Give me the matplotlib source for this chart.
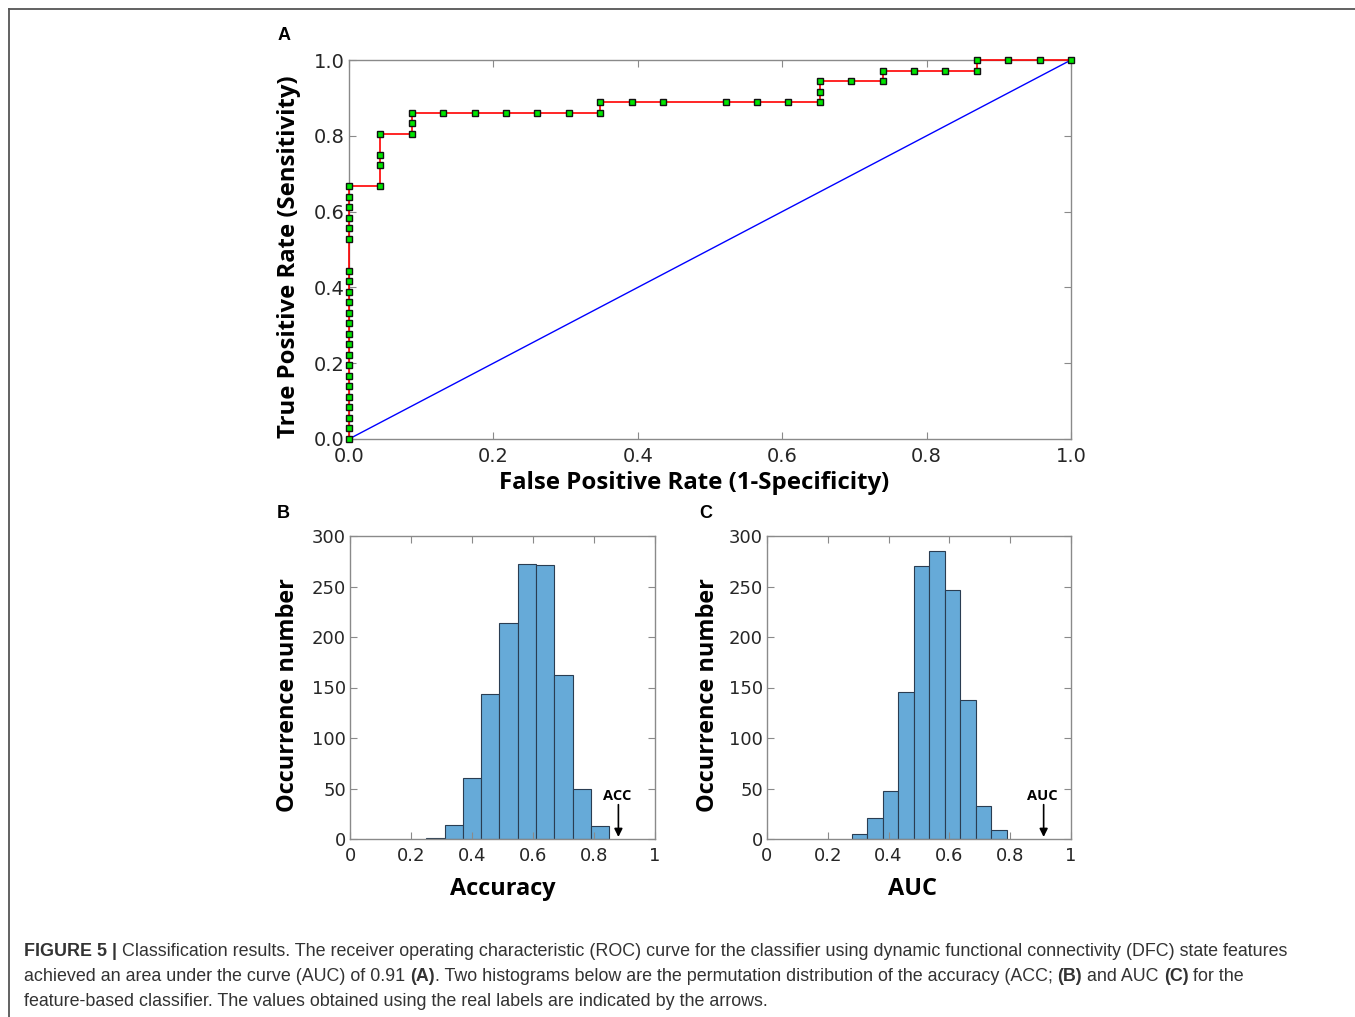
import matplotlib
matplotlib.use('Agg')
import matplotlib.pyplot as plt
from matplotlib.lines import Line2D

# ROC points, counted in steps of one negative (23) and one positive (36)
n_neg = 23
n_pos = 36
roc_fp = [0] * 23 + [1, 1, 1, 1, 2, 2, 2, 3, 4, 5, 6, 7, 8, 8, 9, 10, 12, 13, 14, 15, 15, 15,
                     16, 17, 17, 18, 19, 20, 20, 21, 22, 23]
roc_tp = list(range(0, 17)) + list(range(19, 25)) + [24, 26, 27, 29, 29, 30, 31, 31, 31, 31, 31,
                                                     31, 31, 32, 32, 32, 32, 32, 32, 32, 33, 34,
                                                     34, 34, 35, 35, 35, 35, 36, 36, 36, 36]

# permutation histograms
acc_edges = [0.25, 0.31, 0.37, 0.43, 0.49, 0.55, 0.61, 0.67, 0.73, 0.79, 0.85]
acc_counts = [1, 14, 60, 144, 214, 272, 271, 162, 50, 13]
acc_real = 0.88

auc_edges = [0.279, 0.330, 0.381, 0.432, 0.483, 0.534, 0.585, 0.636, 0.687, 0.738, 0.789]
auc_counts = [5, 21, 48, 146, 270, 285, 247, 138, 33, 9]
auc_real = 0.91

hist_xticks = [0, 0.2, 0.4, 0.6, 0.8, 1]
hist_xticklabels = ['0', '0.2', '0.4', '0.6', '0.8', '1']
hist_yticks = [0, 50, 100, 150, 200, 250, 300]

W, H = 1355, 1017
fig = plt.figure(figsize=(W / 100, H / 100), dpi=100)

spine_col = '#8a8a8a'
tick_col = '#262626'
bar_col = '#66aad8'
bar_edge = '#2a3d52'
label_font = 'Open Sans'


def style_axes(ax, tsize, xpad, ypad):
    for s in ax.spines.values():
        s.set_color(spine_col)
        s.set_linewidth(1.0)
    ax.tick_params(direction='in', top=True, right=True, length=5, width=0.8,
                   color=spine_col, labelcolor=tick_col, labelsize=tsize)
    ax.tick_params(axis='x', pad=xpad)
    ax.tick_params(axis='y', pad=ypad)


def px_axes(l, r, t, b):
    return fig.add_axes([l / W, 1 - b / H, (r - l) / W, (b - t) / H])


# ---- A: ROC curve
axA = px_axes(349, 1071, 60, 439)
fpr = [v / n_neg for v in roc_fp]
tpr = [v / n_pos for v in roc_tp]
axA.plot([0, 1], [0, 1], color='#0000ff', lw=1.0)
axA.plot(fpr, tpr, color='#ff0000', lw=1.2, marker='s', markersize=5,
         markerfacecolor='#00e600', markeredgecolor='#111111', markeredgewidth=1.0,
         clip_on=False, zorder=3)
axA.set_xlim(0, 1)
axA.set_ylim(0, 1)
ticks = [0, 0.2, 0.4, 0.6, 0.8, 1.0]
axA.set_xticks(ticks)
axA.set_yticks(ticks)
axA.set_xticklabels(['%.1f' % t for t in ticks])
axA.set_yticklabels(['%.1f' % t for t in ticks])
style_axes(axA, 14, 5.5, 3)
axA.set_xlabel('False Positive Rate (1-Specificity)', fontsize=17.3, fontweight='bold',
               family=label_font)
axA.set_ylabel('True Positive Rate (Sensitivity)', fontsize=17.2, fontweight='bold',
               family=label_font)
axA.xaxis.set_label_coords(0.4785, -0.085)
axA.yaxis.set_label_coords(-0.066, 0.48)


# ---- B and C: permutation histograms
def hist_panel(l, r, edges, counts, real, name, xlabel, ylab_x, xlab_x):
    ax = px_axes(l, r, 536, 839)
    lefts = edges[:-1]
    widths = [edges[i + 1] - edges[i] for i in range(len(counts))]
    ax.bar(lefts, counts, width=widths, align='edge', color=bar_col,
           edgecolor=bar_edge, linewidth=0.8)
    ax.set_xlim(0, 1)
    ax.set_ylim(0, 300)
    ax.set_xticks(hist_xticks)
    ax.set_xticklabels(hist_xticklabels)
    ax.set_yticks(hist_yticks)
    style_axes(ax, 13, 6, 3)
    ax.set_xlabel(xlabel, fontsize=16.9, fontweight='bold', family=label_font)
    ax.set_ylabel('Occurrence number', fontsize=16.9, fontweight='bold', family=label_font)
    ax.xaxis.set_label_coords(xlab_x, -0.125)
    ax.yaxis.set_label_coords(ylab_x, 0.475)
    ax.annotate('', xy=(real, 2), xytext=(real, 34),
                arrowprops=dict(arrowstyle='-|>', color='black', lw=1.2,
                                mutation_scale=12, shrinkA=0, shrinkB=0))
    ax.text(real - 0.005, 43, name, ha='center', va='center', fontsize=10.5,
            fontweight='bold', family=label_font, color='black')
    return ax


axB = hist_panel(350, 655, acc_edges, acc_counts, acc_real, 'ACC', 'Accuracy', -0.165, 0.5)
axC = hist_panel(767, 1071, auc_edges, auc_counts, auc_real, 'AUC', 'AUC', -0.155, 0.48)

# panel letters
for letter, (x, y) in zip('ABC', [(284, 35), (283, 513), (706, 513)]):
    fig.text(x / W, 1 - y / H, letter, ha='center', va='center', fontsize=13,
             fontweight='bold', family='Liberation Sans')

# frame lines (top and left only)
fig.add_artist(Line2D([8.5 / W, 1], [1 - 8.5 / H, 1 - 8.5 / H], color='#555555', lw=1.3))
fig.add_artist(Line2D([8.5 / W, 8.5 / W], [0, 1 - 8.5 / H], color='#555555', lw=1.3))

# caption with bold fragments
cap_size = 12.85
cap_col = '#333333'
cap_lines = [
    [('FIGURE 5 |', True, False),
     ('Classification results. The receiver operating characteristic (ROC) curve for the '
      'classifier using dynamic functional connectivity (DFC) state features', False, True)],
    [('achieved an area under the curve (AUC) of 0.91', False, False), ('(A)', True, True),
     ('. Two histograms below are the permutation distribution of the accuracy (ACC;', False, False),
     ('(B)', True, True), ('and AUC', False, True), ('(C)', True, True), ('for the', False, True)],
    [('feature-based classifier. The values obtained using the real labels are indicated by '
      'the arrows.', False, False)],
]
cap_baseline = [956, 981, 1006]

fig.canvas.draw()
renderer = fig.canvas.get_renderer()


def text_w(s, bold):
    t = fig.text(0, 0, s, fontsize=cap_size, family='Liberation Sans',
                 fontweight='bold' if bold else 'normal')
    w = t.get_window_extent(renderer).width
    t.remove()
    return w


space_w = text_w('a a', False) - text_w('aa', False)

for parts, yp in zip(cap_lines, cap_baseline):
    x = 24.0
    for s, bold, gap in parts:
        if gap:
            x += space_w
        t = fig.text(x / W, 1 - yp / H, s, fontsize=cap_size, family='Liberation Sans',
                     fontweight='bold' if bold else 'normal', color=cap_col, va='baseline')
        x += t.get_window_extent(renderer).width

fig.savefig('out.png', dpi=100)
